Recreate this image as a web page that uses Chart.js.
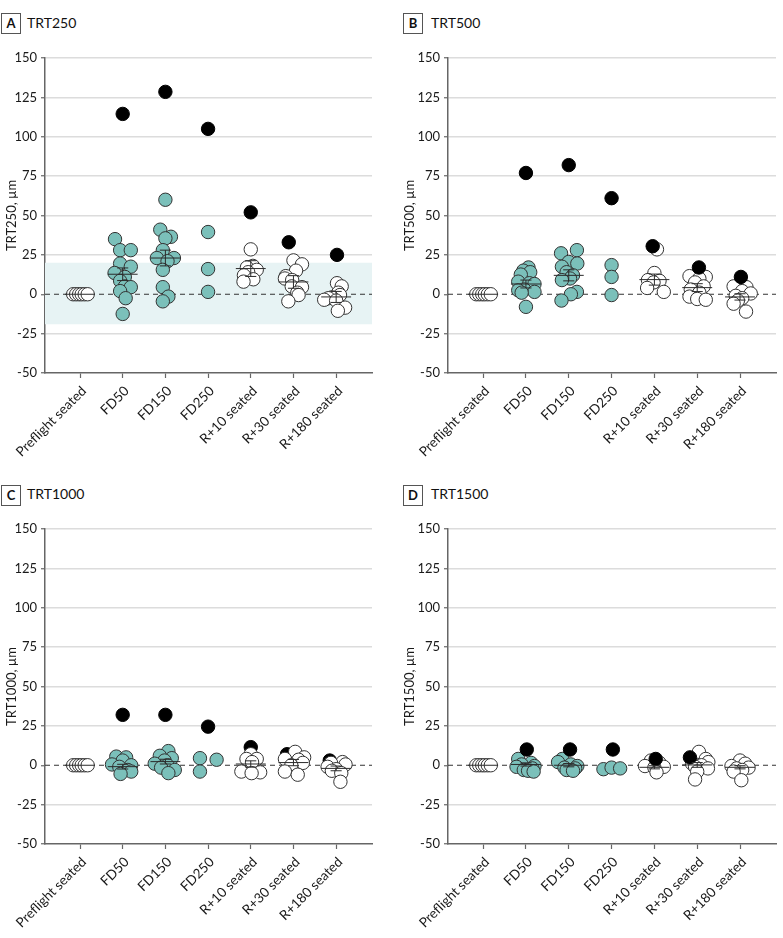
<!DOCTYPE html>
<html>
<head>
<meta charset="utf-8">
<script src="https://cdn.jsdelivr.net/npm/chart.js@4.4.1/dist/chart.umd.min.js"></script>
<style>
  body { margin: 0; background: #fff; font-family: Lato, sans-serif; }
  #wrap { position: relative; width: 783px; height: 938px; }
  canvas { position: absolute; }
  .box { position: absolute; width: 18px; height: 19px; border: 1px solid #555; font: bold 13px Lato, sans-serif;
         text-align: center; line-height: 19px; color: #111; box-sizing: content-box; }
  .ttl { position: absolute; font: 14px Lato, sans-serif; color: #111; line-height: 18px; }
</style>
</head>
<body>
<div id="wrap">
  <div class="box" style="left:1px;top:13px">A</div><div class="ttl" style="left:27px;top:14px">TRT250</div>
  <div class="box" style="left:403px;top:13px">B</div><div class="ttl" style="left:431px;top:14px">TRT500</div>
  <div class="box" style="left:1px;top:485px">C</div><div class="ttl" style="left:27px;top:485px">TRT1000</div>
  <div class="box" style="left:403px;top:485px">D</div><div class="ttl" style="left:431px;top:485px">TRT1500</div>
  <canvas id="chart-a" width="390" height="420" style="left:0;top:40px"></canvas>
  <canvas id="chart-b" width="393" height="420" style="left:390px;top:40px"></canvas>
  <canvas id="chart-c" width="390" height="420" style="left:0;top:510px"></canvas>
  <canvas id="chart-d" width="393" height="420" style="left:390px;top:510px"></canvas>
</div>
<script>
const categories = ['Preflight seated', 'FD50', 'FD150', 'FD250', 'R+10 seated', 'R+30 seated', 'R+180 seated']
const yTicks = [-50, -25, 0, 25, 50, 75, 100, 125, 150]
const preflight = [[-0.16, 0], [-0.09, 0], [-0.02, 0], [0.04, 0], [0.11, 0], [0.18, 0]]

// points are [category position, value]
const trt250White = preflight.concat([
    [4, 28.5], [4.05, 18], [3.91, 17], [4.14, 15.5], [3.94, 14], [3.84, 12], [4.06, 9.5], [3.83, 8],
    [5, 21.5], [5.2, 19], [5.06, 15], [4.82, 11.5], [4.8, 10], [4.97, 9], [4.96, 5], [5.2, 4.5], [5.09, 1], [5.12, -0.5], [4.88, -4.5],
    [6.02, 7], [6.13, 5], [6.05, 1], [6.09, -0.5], [5.9, -2], [5.82, -2.5], [5.72, -3.5], [6, -4], [6.21, -8.5], [6.04, -10.5]
])
const trt250Teal = [
    [0.82, 35], [0.94, 28], [1.19, 28], [0.94, 19.5], [1.19, 17.5], [0.81, 13.5], [1.05, 11], [0.94, 8.5], [1.05, 5], [1.19, 4.5], [0.94, 2], [1.07, -2.5], [1, -12.5],
    [2, 60], [1.88, 41], [2.13, 36.5], [2, 35.5], [1.94, 28], [1.8, 23], [2.2, 23], [2.05, 21], [1.94, 15.5], [1.94, 4.5], [2.07, -1.5], [1.94, -4.5],
    [3, 39.5], [3, 16], [3, 1.5]
]
const trt250Black = [[1, 114.5], [2, 128.5], [3, 105], [4, 52], [4.89, 33], [6.02, 25]]
const trt250Mean = [0, 12.7, 23, null, 16.3, 7.8, -1.7]
const trt250Err = [0, 4, 5, null, 5, 4, 3.5]
const trt250Band = [-19, 20]

const trt500White = preflight.concat([
    [4.06, 28.5], [4, 13.5], [3.85, 9], [4.12, 8.5], [3.98, 7.5], [3.83, 4], [4.22, 1.5],
    [4.82, 11.5], [5.2, 11], [5.05, 10], [4.95, 7.5], [5.15, 5], [4.85, 3], [5.05, 1], [4.82, -1.5], [5, -3], [5.2, -3.5],
    [5.85, 5], [6.15, 4.5], [6.05, 2], [6.25, 0.5], [5.9, -1], [6.05, -2.5], [5.95, -4], [5.85, -6], [6.14, -11]
])
const trt500Teal = [
    [1.06, 17], [0.94, 15], [1.1, 14], [0.88, 12.5], [0.82, 8], [1.08, 7], [1.2, 6.5], [0.96, 3], [0.82, 2.5], [1.2, 1.5], [0.9, 1], [1, -8],
    [2.19, 28], [1.82, 26], [2, 20.5], [2.2, 19.5], [1.84, 17.5], [1.95, 14], [2.1, 12], [2.03, 10], [1.84, 9], [2.19, 1.5], [2.05, 0], [1.83, -4],
    [3, 18.5], [3, 11], [3, -0.5]
]
const trt500Black = [[1, 77], [2, 82], [3, 61], [3.96, 30.5], [5.04, 17], [6.02, 11]]
const trt500Mean = [0, 6.5, 12, null, 9.3, 4.2, -1.7]
const trt500Err = [0, 2.5, 3.5, null, 3.5, 2.5, 2]

const trt1000White = preflight.concat([
    [4, 7], [3.9, 4], [4.14, 4], [4.03, 2], [3.78, -4], [4.22, -4.5], [4.02, -5],
    [5.04, 8.5], [5.25, 5], [4.8, 4], [5.12, 3.5], [5.22, 1.5], [4.95, 0], [4.8, -4], [5.1, -6],
    [6.15, 2], [5.88, 1.5], [6.22, 0.5], [5.8, -1], [6, -2.5], [5.9, -3.5], [6.12, -5], [6.1, -10.5]
])
const trt1000Teal = [
    [0.85, 5.5], [1.08, 5], [1, 3], [0.75, 0.5], [1.2, 0], [0.92, -1], [1.12, -3], [1.2, -4], [0.95, -5.5],
    [2.07, 9], [1.87, 6], [2.15, 4.5], [1.98, 3], [1.75, 1], [2.05, 0], [1.9, -1.5], [2.22, -3], [2.07, -5],
    [2.81, 4.5], [2.81, -4], [3.2, 3.5]
]
const trt1000Black = [[1, 32], [2, 32], [3, 24.5], [4, 11.5], [4.85, 7], [5.85, 3]]
const trt1000Mean = [0, -0.9, 2.3, null, 0.8, 1.7, -2]
const trt1000Err = [0, 1.5, 1.5, null, 2, 2, 1.5]

const trt1500White = preflight.concat([
    [3.92, 3], [4.12, 1.5], [3.78, -0.5], [4.22, -1], [4, -1.5], [4.05, -4.5],
    [5.04, 8.5], [5.2, 4], [5.26, 2], [4.88, 1], [5.1, 0], [4.95, -1], [5.25, -2], [5, -4], [4.95, -9],
    [6, 3], [6.12, 1], [5.8, -0.5], [6.2, -1.5], [5.92, -2], [6.05, -3], [5.85, -4], [6.03, -9.5]
])
const trt1500Teal = [
    [0.82, 4], [1.12, 1.5], [0.9, 0.5], [1.2, -0.5], [0.78, -1], [1.15, -2], [0.95, -3], [1.05, -3.5], [1.18, -4],
    [1.85, 4], [1.75, 2], [2.05, 0.5], [2.2, -0.5], [1.9, -1.5], [2.15, -2], [1.95, -3], [2.1, -3.5],
    [2.81, -2.5], [3, -1.5], [3.2, -2]
]
const trt1500Black = [[1.02, 10], [2.03, 10], [3.03, 10], [4.03, 4], [4.83, 5]]
const trt1500Mean = [0, 0.5, 0, null, -1.3, 0.2, -1.3]
const trt1500Err = [0, 1, 1, null, 1, 1.5, 1]

const X_MIN = -0.82
const X_MAX = 6.84
const font = { family: 'Lato', size: 13 }

function toXY(list) {
    return list.map(p => ({ x: p[0], y: p[1] }))
}

function meanBars(means, errs) {
    let pts = []
    means.forEach((m, i) => {
        if (m === null) return
        pts.push({ x: i - 0.35, y: m }, { x: i + 0.35, y: m }, { x: i, y: null })
        const e = errs[i]
        if (e > 0) {
            pts.push({ x: i, y: m - e }, { x: i, y: m + e }, { x: i, y: null })
            pts.push({ x: i - 0.13, y: m + e }, { x: i + 0.13, y: m + e }, { x: i, y: null })
            pts.push({ x: i - 0.13, y: m - e }, { x: i + 0.13, y: m - e }, { x: i, y: null })
        }
    })
    return pts
}

function dots(data, fill) {
    return {
        data: toXY(data),
        backgroundColor: fill,
        borderColor: fill === '#000000' ? '#000000' : '#333333',
        borderWidth: 1,
        pointRadius: 6.7,
        showLine: false
    }
}

function initPanel(id, opts) {
    const meanSet = {
        data: meanBars(opts.mean, opts.err),
        showLine: true,
        spanGaps: false,
        borderColor: '#2a2a2a',
        borderWidth: 1,
        pointRadius: 0
    }
    const white = dots(opts.white, '#ffffff')
    const black = dots(opts.black, '#000000')
    const teal = dots(opts.teal, '#7bc0ba')
    const zero = {
        data: [{ x: X_MIN, y: 0 }, { x: X_MAX, y: 0 }],
        showLine: true,
        borderColor: '#333',
        borderWidth: 1,
        borderDash: [5, 4],
        pointRadius: 0
    }
    let datasets = [meanSet]
    if (opts.blackBehind) {
        datasets.push(white, black, teal)
    } else {
        datasets.push(black, white, teal)
    }
    datasets.push(zero)
    if (opts.band) {
        datasets.push({
            data: [{ x: X_MIN, y: opts.band[1] }, { x: X_MAX, y: opts.band[1] }],
            showLine: true,
            borderWidth: 0,
            pointRadius: 0,
            backgroundColor: '#e7f3f4',
            fill: { value: opts.band[0] }
        })
    }

    const ctx = document.getElementById(id)
    new Chart(ctx, {
        type: 'scatter',
        data: { datasets: datasets },
        options: {
            responsive: false,
            animation: false,
            layout: {
                autoPadding: false,
                padding: { left: opts.padLeft, top: opts.padTop, right: opts.padRight, bottom: 0 }
            },
            plugins: {
                legend: { display: false },
                tooltip: { enabled: false }
            },
            scales: {
                x: {
                    type: 'linear',
                    min: X_MIN,
                    max: X_MAX,
                    afterBuildTicks: s => { s.ticks = categories.map((c, i) => ({ value: i })) },
                    afterFit: s => { s.height = opts.xHeight },
                    border: { color: '#666', width: 1.5 },
                    grid: { drawOnChartArea: false, drawTicks: true, tickLength: 5, tickColor: '#666', tickWidth: 1.2 },
                    ticks: {
                        autoSkip: false,
                        minRotation: 45,
                        maxRotation: 45,
                        padding: 5,
                        labelOffset: 4,
                        font: { family: 'Lato', size: 13.5 },
                        color: '#1a1a1a',
                        callback: v => categories[v]
                    }
                },
                y: {
                    min: -50,
                    max: 150,
                    afterBuildTicks: s => { s.ticks = yTicks.map(v => ({ value: v })) },
                    afterFit: s => { s.width = opts.yWidth },
                    border: { color: '#666', width: 1.5 },
                    grid: {
                        color: c => (c.tick && (c.tick.value === 0 || c.tick.value === -50)) ? 'rgba(0,0,0,0)' : '#dcdcdc',
                        lineWidth: 1.5,
                        drawTicks: true,
                        tickLength: 4,
                        tickColor: '#666',
                        tickWidth: 1.2
                    },
                    ticks: {
                        padding: 4,
                        font: font,
                        color: '#1a1a1a',
                        callback: v => String(v)
                    },
                    title: {
                        display: true,
                        text: opts.title,
                        font: font,
                        color: '#1a1a1a',
                        padding: { top: 4, bottom: 4 }
                    }
                }
            }
        }
    })
}

initPanel('chart-a', {
    white: trt250White, teal: trt250Teal, black: trt250Black, mean: trt250Mean, err: trt250Err,
    band: trt250Band, title: 'TRT250, µm', padLeft: 0, padTop: 18, padRight: 18, yWidth: 45, xHeight: 87
})
initPanel('chart-b', {
    white: trt500White, teal: trt500Teal, black: trt500Black, mean: trt500Mean, err: trt500Err,
    title: 'TRT500, µm', padLeft: 8, padTop: 18, padRight: 7, yWidth: 50, xHeight: 87
})
initPanel('chart-c', {
    white: trt1000White, teal: trt1000Teal, black: trt1000Black, mean: trt1000Mean, err: trt1000Err,
    blackBehind: true, title: 'TRT1000, µm', padLeft: 0, padTop: 19, padRight: 18, yWidth: 45, xHeight: 86
})
initPanel('chart-d', {
    white: trt1500White, teal: trt1500Teal, black: trt1500Black, mean: trt1500Mean, err: trt1500Err,
    title: 'TRT1500, µm', padLeft: 8, padTop: 19, padRight: 7, yWidth: 50, xHeight: 86
})
</script>
</body>
</html>
